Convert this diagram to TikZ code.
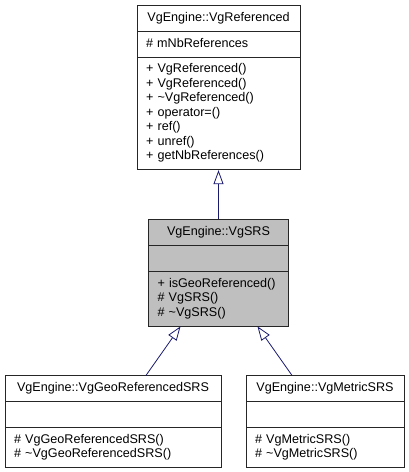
\documentclass[tikz,border=0pt]{standalone}
\usepackage{fontspec}
\setmainfont{Liberation Sans}
\usetikzlibrary{positioning,shapes.multipart,arrows.meta}
\definecolor{edgeblue}{RGB}{25,25,112}
\definecolor{boxgray}{RGB}{191,191,191}
\newcommand{\clstitle}[1]{\makebox[\linewidth][c]{\strut #1}}

\begin{document}
\begin{tikzpicture}[x=1pt, y=1pt, node distance=49pt,
    cls/.style={rectangle split, rectangle split parts=3, draw=black!85, line width=0.8pt,
        font=\fontsize{12.6}{14.5}\selectfont, align=left, inner xsep=9pt, inner ysep=5.25pt},
    inherit/.style={draw=edgeblue, line width=0.8pt, -{Triangle[open, length=14pt, width=10pt]}}]
    \useasboundingbox (0,0) rectangle (409,-472);
    \node[cls, anchor=north, text width=145pt] (ref) at (218.5,-5) {\clstitle{VgEngine::VgReferenced}
        \nodepart{second}\strut\# mNbReferences\strut
        \nodepart{third}\strut + VgReferenced()\\+ VgReferenced()\\+ \textasciitilde VgReferenced()\\+ operator=()\\+ ref()\\+ unref()\\+ getNbReferences()\strut};
    \node[cls, fill=boxgray, text width=122pt, below=of ref] (srs) {\clstitle{VgEngine::VgSRS}
        \nodepart{second}\strut
        \nodepart{third}\strut + isGeoReferenced()\\\# VgSRS()\\\# \textasciitilde VgSRS()\strut};
    \node[cls, text width=198pt, below=of srs, xshift=-105.5pt] (geo) {\clstitle{VgEngine::VgGeoReferencedSRS}
        \nodepart{second}\strut
        \nodepart{third}\strut\# VgGeoReferencedSRS()\\\# \textasciitilde VgGeoReferencedSRS()\strut};
    \node[cls, text width=140pt, below=of srs, xshift=106.5pt] (metric) {\clstitle{VgEngine::VgMetricSRS}
        \nodepart{second}\strut
        \nodepart{third}\strut\# VgMetricSRS()\\\# \textasciitilde VgMetricSRS()\strut};
    \draw[inherit] (srs) -- (ref);
    \draw[inherit] ([xshift=33pt]geo.north) -- ([xshift=-38pt]srs.south);
    \draw[inherit] ([xshift=-33pt]metric.north) -- ([xshift=39pt]srs.south);
\end{tikzpicture}
\end{document}
